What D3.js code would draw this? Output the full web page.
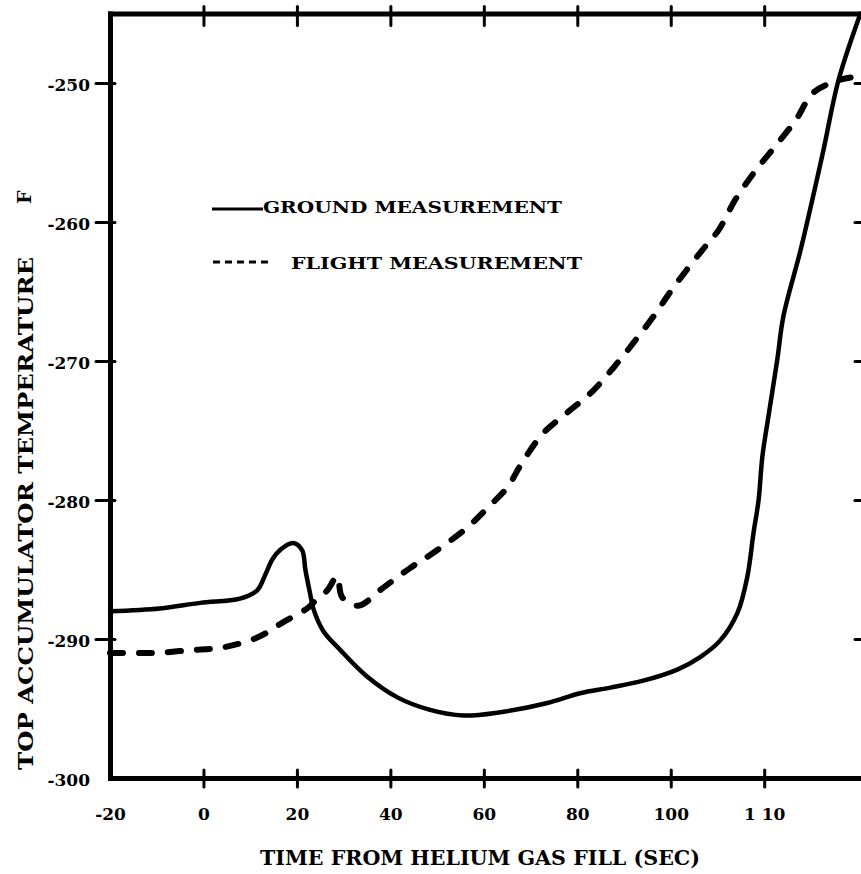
<!DOCTYPE html>
<html><head><meta charset="utf-8">
<script src="https://cdn.jsdelivr.net/npm/d3@7"></script>
<style>html,body{margin:0;padding:0;background:#fff;} svg{display:block}</style>
</head><body>
<script>
// ---- data ----
const groundTime = [-20, -9.3, -0.7, 7.8, 11.5, 13.2, 14.7, 16.4, 19.2, 21.1, 21.8, 22.8, 23.5, 25.6, 29.3, 35.0, 41.5, 48.5, 55.6, 62.9, 73.6, 80.6, 87.1, 94.1, 101.4, 106.3, 110.6, 114.3, 116.4, 117.7, 118.8, 119.6, 120.9, 122.8, 124.1, 127.8, 130.3, 132.7, 135.9, 140.6];
const groundTemp = [-288.0, -287.8, -287.4, -287.1, -286.5, -285.4, -284.3, -283.6, -283.1, -283.6, -285.0, -286.7, -287.8, -289.4, -290.8, -292.7, -294.2, -295.1, -295.5, -295.3, -294.6, -293.9, -293.5, -293.0, -292.2, -291.3, -290.1, -288.1, -285.5, -282.4, -280.0, -276.9, -274.0, -269.9, -266.8, -262.0, -258.4, -254.8, -249.8, -245.0];
const flightTime = [-20, -15.1, -9.9, -2.9, 4.2, 11.5, 17.0, 22.2, 23.5, 26.5, 28.6, 29.7, 33.1, 38.5, 44.2, 49.2, 56.4, 60.7, 65.0, 68.2, 72.7, 77.9, 83.2, 87.7, 92.0, 96.3, 100.6, 106.8, 110.2, 113.8, 117.7, 122.0, 126.7, 130.5, 135.9, 138.5];
const flightTemp = [-291.0, -291.0, -291.0, -290.8, -290.6, -289.9, -288.8, -287.8, -287.4, -286.5, -285.5, -287.0, -287.6, -286.3, -284.9, -283.8, -282.0, -280.6, -279.1, -277.3, -275.2, -273.7, -272.2, -270.5, -268.7, -266.8, -264.7, -262.0, -260.6, -258.4, -256.5, -254.7, -252.7, -250.7, -249.8, -249.6];
const xTickValues = [-20, 0, 20, 40, 60, 80, 100, 120];
const xTickLabels = ["-20", "0", "20", "40", "60", "80", "100", "1 10"];
const yTickValues = [-300, -290, -280, -270, -260, -250];
const yTickLabels = ["-300", "-290", "-280", "-270", "-260", "-250"];
const seriesNames = ["GROUND MEASUREMENT", "FLIGHT MEASUREMENT"];
const xTitle = "TIME FROM HELIUM GAS FILL (SEC)";
const yTitle = "TOP ACCUMULATOR TEMPERATURE";
const yUnit = "F";

// ---- drawing ----
const W = 861, H = 874;
const FONT = "'DejaVu Serif', 'Liberation Serif', serif";
const svg = d3.select("body").append("svg").attr("width", W).attr("height", H)
  .style("background", "#fff");

const x = d3.scaleLinear().domain([-20, 142]).range([110, 867]);
const y = d3.scaleLinear().domain([-300, -245]).range([778, 13.5]);

function styleAxis(g, sw) {
  g.select(".domain").attr("stroke", "#000").attr("stroke-width", sw).attr("stroke-linecap", "square");
  g.selectAll(".tick line").attr("stroke", "#000").attr("stroke-width", 3).attr("stroke-linecap", "round");
  g.selectAll(".tick text").attr("font-family", FONT).attr("font-weight", "bold")
    .attr("font-size", 17).attr("fill", "#000");
}

// bottom axis
const gB = svg.append("g").attr("transform", `translate(0,${y(-300)})`)
  .call(d3.axisBottom(x).tickValues(xTickValues).tickFormat((d, i) => xTickLabels[i])
    .tickSize(10).tickSizeOuter(0).tickPadding(20));
styleAxis(gB, 5);
gB.selectAll(".tick line").attr("y1", -8).attr("y2", 9);
gB.selectAll(".tick").filter(d => d === -20).select("line").remove();

// top axis
const gT = svg.append("g").attr("transform", `translate(0,${y(-245)})`)
  .call(d3.axisTop(x).tickValues(xTickValues.filter(d => d > -20)).tickFormat("")
    .tickSize(8).tickSizeOuter(0));
styleAxis(gT, 5);
gT.selectAll(".tick line").attr("y1", 12).attr("y2", -7);

// left axis
const gL = svg.append("g").attr("transform", `translate(${x(-20)},0)`)
  .call(d3.axisLeft(y).tickValues(yTickValues).tickFormat((d, i) => yTickLabels[i])
    .tickSize(14).tickSizeOuter(0).tickPadding(6));
styleAxis(gL, 5);
gL.selectAll(".tick line").attr("x1", 5).attr("x2", -14);
gL.selectAll(".tick").filter(d => d === -300).select("line").remove();
gL.selectAll(".tick text").attr("dy", "0.45em");

// right axis (mostly outside the picture)
const gR = svg.append("g").attr("transform", `translate(${x(142)},0)`)
  .call(d3.axisLeft(y).tickValues(yTickValues.filter(d => d > -300)).tickFormat("")
    .tickSize(12).tickSizeOuter(0));
styleAxis(gR, 5);

// curves
const line = d3.line().x(d => x(d[0])).y(d => y(d[1])).curve(d3.curveCatmullRom.alpha(0.5));
const groundData = groundTime.map((t, i) => [t, groundTemp[i]]);
const flightData = flightTime.map((t, i) => [t, flightTemp[i]]);

svg.append("path").datum(flightData).attr("d", line)
  .attr("fill", "none").attr("stroke", "#000").attr("stroke-width", 6)
  .attr("stroke-linecap", "round").attr("stroke-dasharray", "13,16");

svg.append("path").datum(groundData).attr("d", line)
  .attr("fill", "none").attr("stroke", "#000").attr("stroke-width", 4.5)
  .attr("stroke-linecap", "round").attr("stroke-linejoin", "round");

// legend
const leg = svg.append("g");
leg.append("line").attr("x1", 212).attr("x2", 263).attr("y1", 209).attr("y2", 209)
  .attr("stroke", "#000").attr("stroke-width", 3);
leg.append("text").attr("x", 263).attr("y", 213).text(seriesNames[0])
  .attr("font-family", FONT).attr("font-weight", "bold").attr("font-size", 17)
  .attr("textLength", 299).attr("lengthAdjust", "spacingAndGlyphs");
leg.append("line").attr("x1", 213).attr("x2", 270).attr("y1", 262).attr("y2", 262)
  .attr("stroke", "#000").attr("stroke-width", 3).attr("stroke-dasharray", "7,5");
leg.append("text").attr("x", 291).attr("y", 269).text(seriesNames[1])
  .attr("font-family", FONT).attr("font-weight", "bold").attr("font-size", 17)
  .attr("textLength", 291).attr("lengthAdjust", "spacingAndGlyphs");

// titles
svg.append("text").attr("x", 260).attr("y", 865).text(xTitle)
  .attr("font-family", FONT).attr("font-weight", "bold").attr("font-size", 20)
  .attr("textLength", 440).attr("lengthAdjust", "spacingAndGlyphs");
svg.append("text").attr("transform", "translate(33,770) rotate(-90)").text(yTitle)
  .attr("font-family", FONT).attr("font-weight", "bold").attr("font-size", 20)
  .attr("textLength", 513).attr("lengthAdjust", "spacingAndGlyphs");
svg.append("text").attr("transform", "translate(31,204) rotate(-90)").text(yUnit)
  .attr("font-family", FONT).attr("font-weight", "bold").attr("font-size", 19);
</script>
</body></html>
